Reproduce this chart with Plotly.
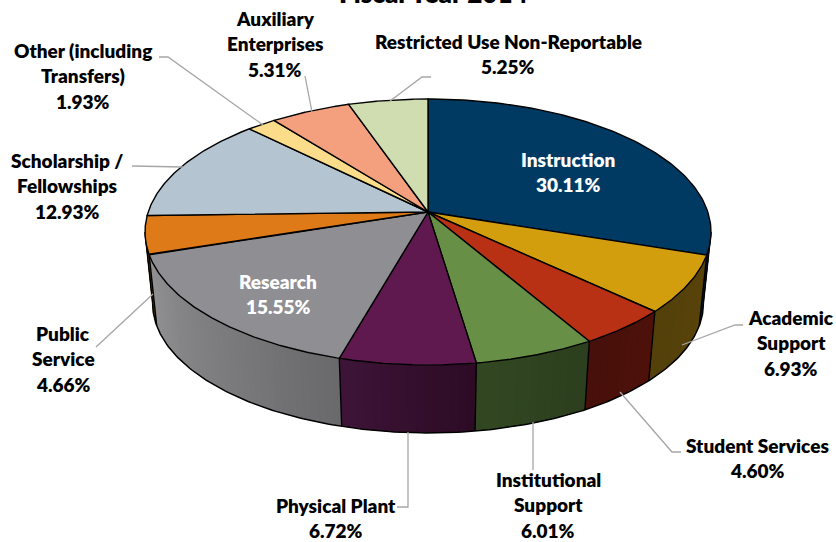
import numpy as np
import plotly.graph_objects as go

categories = [
    "Instruction", "Academic Support", "Student Services", "Institutional Support",
    "Physical Plant", "Research", "Public Service", "Scholarship / Fellowships",
    "Other (including Transfers)", "Auxiliary Enterprises", "Restricted Use Non-Reportable",
]
values = [30.11, 6.93, 4.60, 6.01, 6.72, 15.55, 4.66, 12.93, 1.93, 5.31, 5.25]
top_colors = [
    "#003a63", "#d39e0e", "#b93114", "#678f45", "#5f194f", "#8f8e93",
    "#de7a18", "#b5c4d1", "#fadc8a", "#f4a07e", "#cfddb0",
]
wall_colors = [
    ("#00233b", "#00233b"), ("#5a440a", "#53400a"), ("#4e120a", "#47100a"),
    ("#2c3f1e", "#324822"), ("#2d0b25", "#3e1539"), ("#6a6a6c", "#929294"),
    ("#5e3a0c", "#5e3a0c"), None, None, None, None,
]

# label text per slice, one entry per line, the percentage line is added from values
label_lines = [
    ["Instruction"], ["Academic", "Support"], ["Student Services"], ["Institutional", "Support"],
    ["Physical Plant"], ["Research"], ["Public", "Service"], ["Scholarship /", "Fellowships"],
    ["Other (including", "Transfers)"], ["Auxiliary", "Enterprises"], ["Restricted Use Non-Reportable"],
]
label_x = [568, 791, 757, 548, 336, 278, 63, 67, 83, 275, 508]
label_y = [159, 317, 445, 479, 505, 281, 333, 160, 50, 18, 41]
label_color = ["white", "black", "black", "black", "black", "white", "black", "black", "black", "black", "black"]

leader_lines = [
    ([682, 735, 743], [345, 325, 325]),
    ([620, 672, 681], [392, 452, 452]),
    ([533, 533], [422, 470]),
    ([408, 408, 397], [432, 507, 507]),
    ([153, 96], [294, 347]),
    ([132, 183], [166, 167]),
    ([159, 168, 263], [57, 57, 125]),
    ([305, 312], [76, 112]),
    ([390, 422, 431], [101, 77, 77]),
]

CX, CY = 428, 212
RX, RY = 279.8, 130
PERSP = 0.1504
WALL_DY = 72
WALL_SCALE = 0.973
LINE_SPACING = 25.7


def project(pct, scale=1.0, dy=0.0):
    # clockwise from twelve o'clock, flat disc seen in perspective
    theta = np.asarray(pct) / 100 * 2 * np.pi
    u, v = np.sin(theta), np.cos(theta)
    w = 1 + PERSP * v
    return CX + scale * RX * u / w, CY + dy + scale * RY * -v / w


def mix(c1, c2, t):
    a = [int(c1[i:i + 2], 16) for i in (1, 3, 5)]
    b = [int(c2[i:i + 2], 16) for i in (1, 3, 5)]
    return "rgb(%d,%d,%d)" % tuple(a[i] + (b[i] - a[i]) * t for i in range(3))


def add_poly(fig, x, y, fill, line_color, width):
    fig.add_trace(go.Scatter(
        x=list(x), y=list(y), mode="lines", fill="toself", fillcolor=fill,
        line=dict(color=line_color, width=width), hoverinfo="skip", showlegend=False,
    ))


def add_line(fig, x, y, color, width):
    fig.add_trace(go.Scatter(
        x=list(x), y=list(y), mode="lines", line=dict(color=color, width=width),
        hoverinfo="skip", showlegend=False,
    ))


fig = go.Figure()
edges = np.concatenate([[0], np.cumsum(values)])
edges = edges / edges[-1] * 100

# side wall is only seen on the front part of the disc
vis_start = np.degrees(np.arccos(-PERSP)) / 360 * 100
vis_end = 100 - vis_start

for i, colors in enumerate(wall_colors):
    if colors is None:
        continue
    a, b = max(edges[i], vis_start), min(edges[i + 1], vis_end)
    if b <= a:
        continue
    steps = max(2, int((b - a) / 0.4))
    ts = np.linspace(a, b, steps + 1)
    for k in range(steps):
        # each strip runs under the next one so no seams show
        arc = np.linspace(ts[k], ts[min(k + 2, steps)], 4)
        x1, y1 = project(arc)
        x2, y2 = project(arc[::-1], WALL_SCALE, WALL_DY)
        col = mix(colors[0], colors[1], (k + 0.5) / steps)
        add_poly(fig, np.r_[x1, x2, x1[0]], np.r_[y1, y2, y1[0]], col, col, 0)

# wall outline: lower rim and the vertical slice edges
arc = np.linspace(vis_start, vis_end, 200)
add_line(fig, *project(arc, WALL_SCALE, WALL_DY), "black", 1.5)
for e in [vis_start, *[p for p in edges if vis_start < p < vis_end], vis_end]:
    xt, yt = project(e)
    xb, yb = project(e, WALL_SCALE, WALL_DY)
    add_line(fig, [xt, xb], [yt, yb], "black", 1.4)

# top face
for i in range(len(values)):
    arc = np.linspace(edges[i], edges[i + 1], 120)
    x, y = project(arc)
    add_poly(fig, np.r_[CX, x, CX], np.r_[CY, y, CY], top_colors[i], "black", 1.4)

for lx, ly in leader_lines:
    add_line(fig, lx, ly, "#a6a6a6", 1.3)

for i, lines in enumerate(label_lines):
    rows = lines + ["%.2f%%" % values[i]]
    for n, row in enumerate(rows):
        fig.add_annotation(
            x=label_x[i], y=label_y[i] + n * LINE_SPACING, text=row, showarrow=False,
            xanchor="center", yanchor="middle",
            font=dict(family="Lato", size=19, weight=800, color=label_color[i]),
        )

# title sits half off the top of the page, as in the source image
fig.add_annotation(
    x=433, xref="x", y=1, yref="paper", yshift=7, text="Fiscal Year 2014", showarrow=False,
    xanchor="center", yanchor="middle", font=dict(family="Lato", size=26, weight=800, color="black"),
)

fig.update_xaxes(range=[0, 836], visible=False, fixedrange=True)
fig.update_yaxes(range=[542, 0], visible=False, fixedrange=True)
fig.update_layout(
    width=836, height=542, margin=dict(l=0, r=0, t=0, b=0),
    paper_bgcolor="white", plot_bgcolor="white", showlegend=False,
)
fig.write_html(
    "out.html", config=dict(displayModeBar=False),
    post_script="document.body.style.margin='0';",
)
